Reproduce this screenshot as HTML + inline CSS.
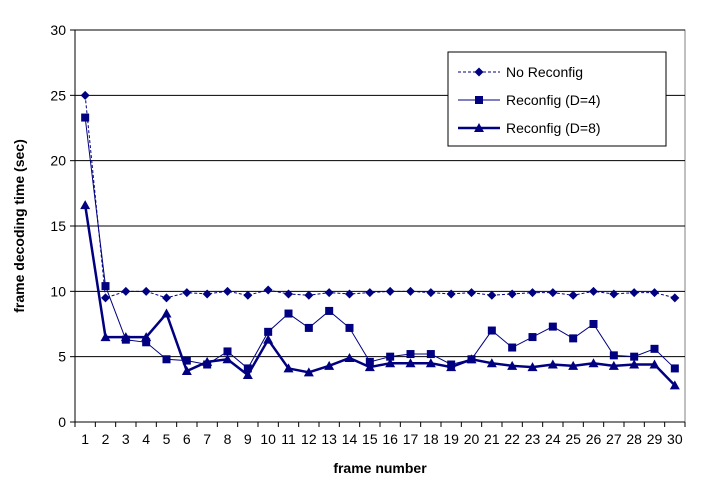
<!DOCTYPE html>
<html><head><style>
body{margin:0;background:#fff;font-family:"Liberation Sans",Arial,sans-serif;}
svg text{font-family:"Liberation Sans",Arial,sans-serif;}
</style></head><body>
<svg id="c" width="702" height="490" xmlns="http://www.w3.org/2000/svg"></svg>
<script>
const categories=[1,2,3,4,5,6,7,8,9,10,11,12,13,14,15,16,17,18,19,20,21,22,23,24,25,26,27,28,29,30];
const noReconfig=[25,9.5,10,10,9.5,9.9,9.8,10,9.7,10.1,9.8,9.7,9.9,9.8,9.9,10,10,9.9,9.8,9.9,9.7,9.8,9.9,9.9,9.7,10,9.8,9.9,9.9,9.5];
const reconfigD4=[23.3,10.4,6.3,6.1,4.8,4.7,4.4,5.4,4.1,6.9,8.3,7.2,8.5,7.2,4.6,5.0,5.2,5.2,4.4,4.8,7.0,5.7,6.5,7.3,6.4,7.5,5.1,5.0,5.6,4.1];
const reconfigD8=[16.6,6.5,6.5,6.5,8.3,3.9,4.6,4.8,3.6,6.3,4.1,3.8,4.3,4.9,4.2,4.5,4.5,4.5,4.2,4.8,4.5,4.3,4.2,4.4,4.3,4.5,4.3,4.4,4.4,2.8];
const yTicks=[0,5,10,15,20,25,30];
const L=75,R=685,T=30,B=422,C="#000080";
const svg=document.getElementById('c'),NS="http://www.w3.org/2000/svg";
const cw=(R-L)/categories.length;
const x=i=>L+cw*(i+0.5), y=v=>B-(v/30)*(B-T);
function el(t,a,p){const e=document.createElementNS(NS,t);for(const k in a)e.setAttribute(k,a[k]);(p||svg).appendChild(e);return e;}
el('rect',{x:L,y:T,width:R-L,height:B-T,fill:'#fff',stroke:'#808080'});
yTicks.forEach(v=>{
 if(v>0){const g=el('line',{x1:L,x2:R,y1:y(v),y2:y(v),stroke:'#000'});
 
 }
 el('line',{x1:L-5,x2:L,y1:y(v),y2:y(v),stroke:'#000'});
 const t=el('text',{x:L-9,y:y(v)+5,'text-anchor':'end','font-size':14});t.textContent=v;
 
 
});
el('line',{x1:L,x2:L,y1:T,y2:B,stroke:'#000'});
el('line',{x1:L,x2:R,y1:B,y2:B,stroke:'#000'});
categories.forEach((c,i)=>{
 el('line',{x1:L+cw*i,x2:L+cw*i,y1:B,y2:B+5,stroke:'#000'});
 const t=el('text',{x:x(i),y:B+22,'text-anchor':'middle','font-size':14});t.textContent=c;
 
 
});
el('line',{x1:R,x2:R,y1:B,y2:B+5,stroke:'#000'});
let t=el('text',{x:(L+R)/2,y:473,'text-anchor':'middle','font-size':14,'font-weight':'bold'});t.textContent='frame number';

t=el('text',{x:0,y:0,'text-anchor':'middle','font-size':14,'font-weight':'bold',transform:`translate(24,${(T+B)/2}) rotate(-90)`});t.textContent='frame decoding time (sec)';

function marker(g,type,cx,cy){
 if(type==='d')el('polygon',{points:`${cx},${cy-4.5} ${cx+4.5},${cy} ${cx},${cy+4.5} ${cx-4.5},${cy}`,fill:C},g);
 else if(type==='s')el('rect',{x:cx-4,y:cy-4,width:8,height:8,fill:C},g);
 else el('polygon',{points:`${cx},${cy-5} ${cx+5},${cy+4} ${cx-5},${cy+4}`,fill:C},g);
}
function series(name,data,type,w,dash){
 const g=el('g',{});
 
 
 el('polyline',{points:data.map((v,i)=>x(i)+','+y(v)).join(' '),fill:'none',stroke:C,'stroke-width':w,'stroke-dasharray':dash||'none'},g);
 data.forEach((v,i)=>marker(g,type,x(i),y(v)));
}
series('series-no-reconfig',noReconfig,'d',1,'3,2');
series('series-reconfig-d4',reconfigD4,'s',1);
series('series-reconfig-d8',reconfigD8,'t',2.5);
const lg=el('g',{});


el('rect',{x:448,y:52,width:218,height:94,fill:'#fff',stroke:'#000'},lg);
[['No Reconfig','d',1,'3,2'],['Reconfig (D=4)','s',1,null],['Reconfig (D=8)','t',2.5,null]].forEach((e,i)=>{
 const yy=72+i*28;
 el('line',{x1:458,x2:500,y1:yy,y2:yy,stroke:C,'stroke-width':e[2],'stroke-dasharray':e[3]||'none'},lg);
 marker(lg,e[1],479,yy);
 const tt=el('text',{x:506,y:yy+5,'font-size':14},lg);tt.textContent=e[0];
 
 
});
</script>
</body></html>
